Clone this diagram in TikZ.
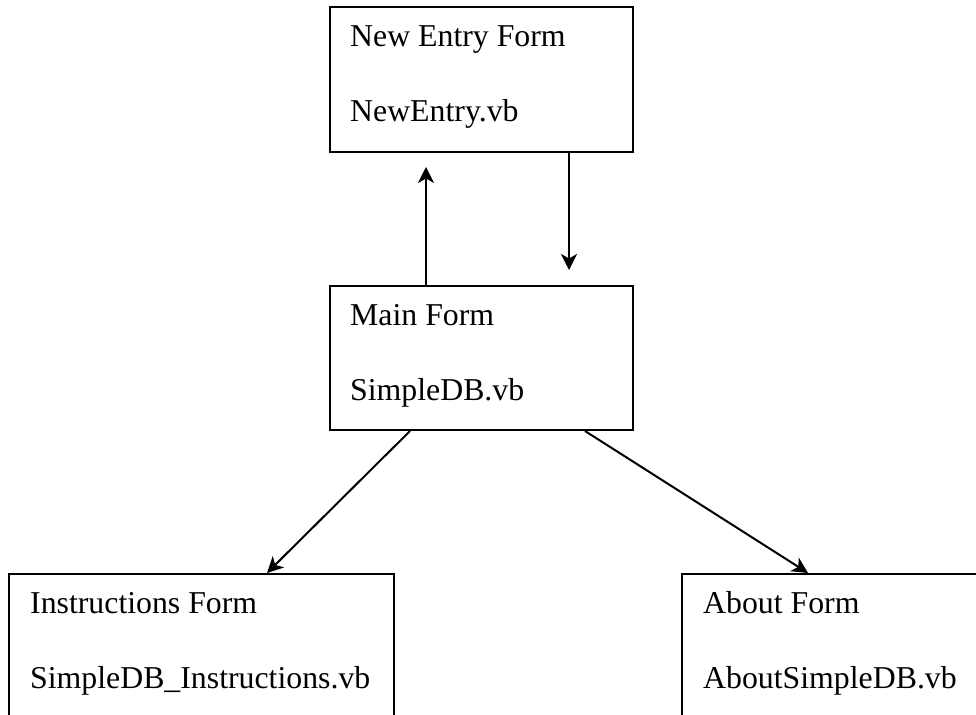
\documentclass[tikz,border=0pt]{standalone}
\usepackage{fontspec}
\setmainfont{Liberation Serif}
\usetikzlibrary{arrows.meta}
\begin{document}
\begin{tikzpicture}[x=1pt,y=-1pt,
  formbox/.style={draw=black,line width=2pt,rectangle,inner sep=0pt},
  lbl/.style={anchor=base west,inner sep=0pt,font=\fontsize{31.8}{36}\selectfont},
  arr/.style={line width=2pt,-{Stealth[length=16pt,width=16pt,inset=4.5pt]}}]
\clip (0,0) rectangle (976,714);
\fill[white] (0,0) rectangle (976,714);
% boxes
\node[formbox,minimum width=303pt,minimum height=145pt] (ne) at (481.5,79.5) {};
\node[formbox,minimum width=303pt,minimum height=144pt] (main) at (481.5,358) {};
\node[formbox,minimum width=385pt,minimum height=200pt] (inst) at (201.5,674) {};
\node[formbox,minimum width=360pt,minimum height=200pt] (about) at (862,674) {};
% texts
\node[lbl] (ne1) at (350,47) {New Entry Form};
\node[lbl] (ne2) at (350,122) {NewEntry.vb};
\node[lbl] (m1) at (350,325) {Main Form};
\node[lbl] (m2) at (350,400) {SimpleDB.vb};
\node[lbl] (i1) at (30,613) {Instructions Form};
\node[lbl] (i2) at (30,688) {SimpleDB\_Instructions.vb};
\node[lbl] (a1) at (703,613) {About Form};
\node[lbl] (a2) at (703,688) {AboutSimpleDB.vb};
% connectors
\coordinate (uptip) at (426,167);
\coordinate (dntip) at (569,270);
\coordinate (lstart) at (410,0);
\coordinate (rstart) at (585,0);
\coordinate (ltip) at (267,0);
\coordinate (rtip) at (808,0);
\draw[arr] (main.north -| uptip) -- (uptip);
\draw[arr] (ne.south -| dntip) -- (dntip);
\draw[arr] (main.south -| lstart) -- (inst.north -| ltip);
\draw[arr] (main.south -| rstart) -- (about.north -| rtip);
\end{tikzpicture}
\end{document}
